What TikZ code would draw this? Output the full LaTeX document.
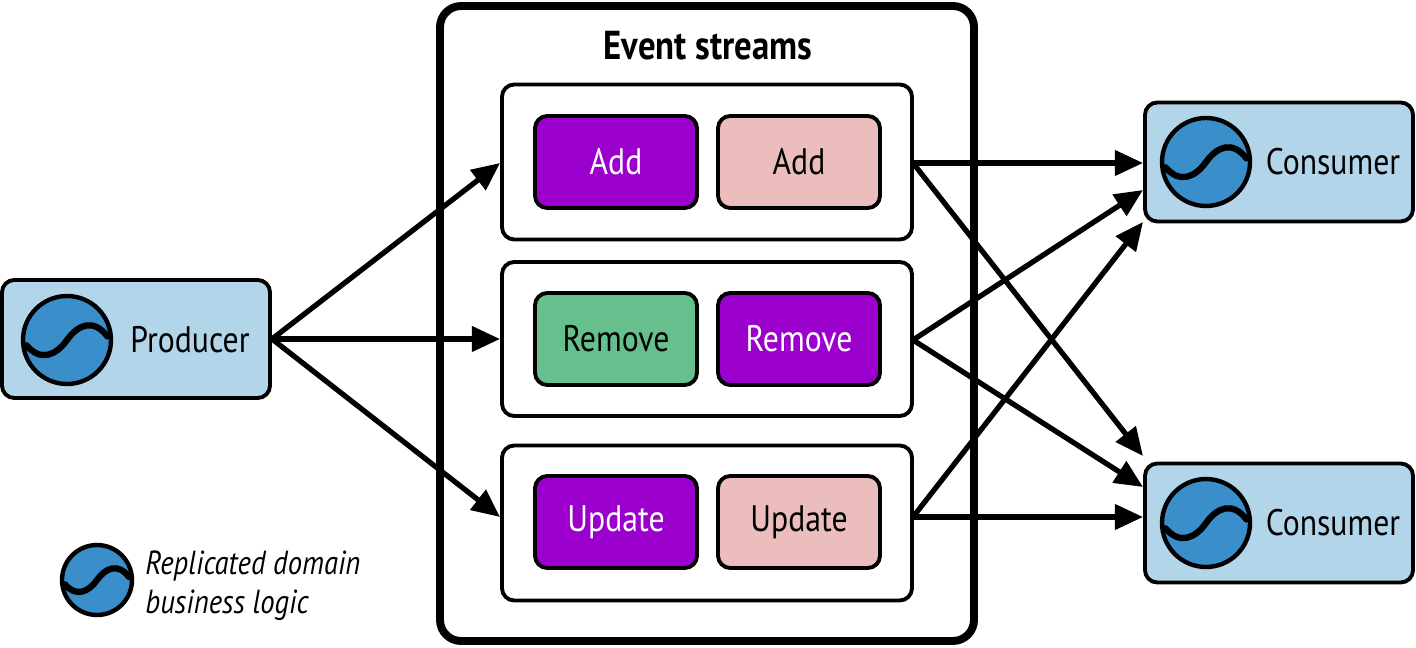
\documentclass[tikz,border=0pt]{standalone}
\usepackage{fontspec}
\setmainfont{PT Sans}[FakeStretch=0.86]
\usetikzlibrary{arrows.meta}
\definecolor{lblue}{HTML}{B3D5EA}
\definecolor{iblue}{HTML}{3A8FCB}
\definecolor{purp}{HTML}{9B00CC}
\definecolor{pink}{HTML}{EBBDBD}
\definecolor{grn}{HTML}{66C08E}
\begin{document}
\begin{tikzpicture}[x=0.02cm,y=-0.02cm,
 rbox/.style={draw=black,line width=2.2pt,rounded corners=7pt},
 ev/.style={rbox,minimum width=162*0.02cm,minimum height=92*0.02cm,font=\fontsize{21}{24}\selectfont},
 arr/.style={line width=3pt,-{Triangle[length=16pt,width=14pt]}},
 lbl/.style={font=\fontsize{21}{24}\selectfont},
 ic/.pic={\draw[fill=iblue,line width=2.5pt] (0,0) circle (#1);
   \draw[line width=3.6pt,line cap=round] (-0.92*#1,0.12*#1) .. controls (-0.6*#1,0.5*#1) and (-0.25*#1,0.35*#1) .. (0,0) .. controls (0.25*#1,-0.35*#1) and (0.6*#1,-0.5*#1) .. (0.92*#1,-0.08*#1);}
]
\useasboundingbox (0,0) rectangle (1416,648);
% producer
\node[rbox,fill=lblue,minimum width=268*0.02cm,minimum height=118*0.02cm] (prod) at (136,339) {};
\pic at (67,340) {ic=44};
\node[lbl] (pt) at (190,340) {Producer};
% outer
\draw[line width=4.5pt,rounded corners=12pt] (440,6) rectangle (974,641);
\node[font=\bfseries\fontsize{23}{26}\selectfont] (title) at (708,46) {Event streams};
% rows
\node[rbox,minimum width=410*0.02cm,minimum height=155*0.02cm] (r1) at (707,162) {};
\node[rbox,minimum width=410*0.02cm,minimum height=154*0.02cm] (r2) at (707,339) {};
\node[rbox,minimum width=410*0.02cm,minimum height=155*0.02cm] (r3) at (707,523) {};
\node[ev,fill=purp,text=white] (a1) at (616,162) {Add};
\node[ev,fill=pink] (a2) at (799,162) {Add};
\node[ev,fill=grn] (b1) at (616,339) {Remove};
\node[ev,fill=purp,text=white] (b2) at (799,339) {Remove};
\node[ev,fill=purp,text=white] (c1) at (616,522) {Update};
\node[ev,fill=pink] (c2) at (799,522) {Update};
% consumers
\node[rbox,fill=lblue,minimum width=268*0.02cm,minimum height=119*0.02cm] (k1) at (1279,162) {};
\node[rbox,fill=lblue,minimum width=268*0.02cm,minimum height=119*0.02cm] (k2) at (1279,523) {};
\pic at (1206,162) {ic=44};
\pic at (1206,523) {ic=44};
\node[lbl] (kt1) at (1333,162) {Consumer};
\node[lbl] (kt2) at (1333,523) {Consumer};
% legend
\pic at (97,580) {ic=35};
\node[anchor=west,align=left,font=\itshape\fontsize{19}{22}\selectfont,inner sep=0pt] (leg) at (145,586) {Replicated domain\\business logic};
% arrows
\coordinate (p) at (272,339);
\draw[arr] (p) -- (r1.west|-0,163) ;
\draw[arr] (p) -- (r2.west);
\draw[arr] (p) -- (r3.west|-0,517);
\coordinate (o1) at (913,163); \coordinate (o2) at (913,340); \coordinate (o3) at (913,517);
\draw[arr] (o1) -- (k1.west|-0,163);
\draw[arr] (o1) -- (1143,456);
\draw[arr] (o2) -- (1143,190);
\draw[arr] (o2) -- (1143,487);
\draw[arr] (o3) -- (1143,222);
\draw[arr] (o3) -- (k2.west|-0,517);
\end{tikzpicture}
\end{document}
